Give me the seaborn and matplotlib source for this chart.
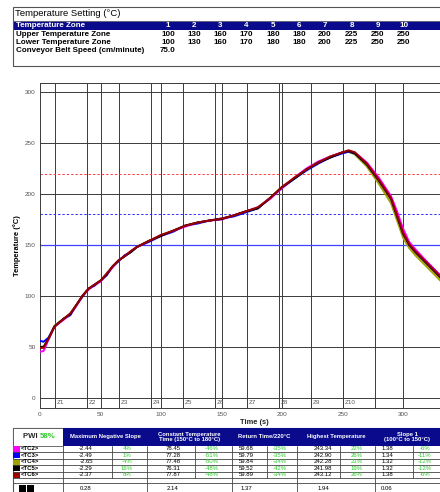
import pandas as pd
import matplotlib.pyplot as plt
import seaborn as sns
from matplotlib.patches import Rectangle
from matplotlib.lines import Line2D

# zone settings table
zones = ["1", "2", "3", "4", "5", "6", "7", "8", "9", "10"]
upper_zone = [100, 130, 160, 170, 180, 180, 200, 225, 250, 250]
lower_zone = [100, 130, 160, 170, 180, 180, 200, 225, 250, 250]
belt_speed = "75.0"

# zone boundaries on the time axis (s)
zone_start = [12.4, 38.8, 65.3, 91.7, 118.1, 144.6, 171.0, 197.4, 223.8, 250.2, 276.6]

# thermocouple readings
times = [0, 3, 7, 12, 20, 25, 30, 35, 40, 45, 50, 55, 60, 65, 70, 75, 80, 90, 100, 110,
         120, 130, 140, 150, 160, 170, 180, 190, 200, 210, 220, 230, 240, 250, 255, 260,
         270, 280, 290, 295, 300, 305, 310, 320, 330, 340]
tc2 = [45, 46, 57, 70, 77, 82, 90, 100, 106, 111, 114, 121, 128, 135, 139, 144, 148, 154, 159, 164,
       168, 172, 174, 175, 179, 183, 187, 195, 206, 216, 225, 232, 237, 241, 242, 241,
       231, 216, 198, 183, 166, 153, 146, 133, 121, 108]
tc3 = [56, 55, 59, 70, 78, 81, 91, 99, 107, 110, 115, 120, 129, 134, 140, 143, 148, 153, 159, 163,
       169, 171, 174, 176, 178, 182, 186, 196, 206, 215, 223, 230, 236, 240, 241.5, 240,
       230, 215, 197, 181, 164, 152, 145, 133, 121, 108]
tc4 = [50, 50, 58, 71, 78, 82, 91, 100, 107, 111, 115, 121, 129, 135, 139, 143, 148, 154, 159, 164,
       169, 172, 174, 175.5, 179, 183, 186, 196, 207, 215, 224, 231, 236, 241, 241.5, 239,
       227, 210, 191, 174, 157, 147, 140, 128, 116, 103]
tc5 = [50, 50, 58, 70, 78, 82, 91, 100, 107, 111, 115, 121, 129, 135, 139, 143, 148, 154, 159, 164,
       169, 172, 174, 175.5, 179, 183, 186, 196, 207, 215, 224, 231, 236, 241, 242, 240,
       229, 213, 195, 178, 161, 150, 143, 131, 119, 106]
tc6 = [49, 49, 58, 70, 78, 83, 91, 100, 107, 111, 115, 122, 129, 135, 139, 144, 148, 154, 160, 164,
       169, 172, 174, 176, 179, 183, 187, 196, 207, 216, 224, 231, 237, 241, 243, 241,
       230, 214, 196, 179, 162, 151, 144, 132, 120, 107]

# results table
tc_names = ["<TC2>", "<TC3>", "<TC4>", "<TC5>", "<TC6>"]
max_neg_slope = ["-2.44", "-2.49", "-2.65", "-2.29", "-2.37"]
max_neg_pct = ["4%", "1%", "-4%", "16%", "8%"]
const_time = ["78.45", "77.28", "77.48", "76.31", "77.87"]
const_pct = ["-46%", "-51%", "-50%", "-48%", "-48%"]
return_time = ["59.68", "59.79", "59.84", "59.52", "59.89"]
return_pct = ["-35%", "-35%", "-34%", "-42%", "-34%"]
highest = ["243.34", "242.90", "242.28", "241.98", "243.12"]
highest_pct = ["22%", "26%", "21%", "19%", "26%"]
slope1 = ["1.38", "1.34", "1.32", "1.32", "1.38"]
slope1_pct = ["-6%", "-11%", "-12%", "-12%", "-6%"]
range_row = ["0.28", "2.14", "1.37", "1.94", "0.06"]
pwi = "58%"

colors = {"<TC2>": "#ff00ff", "<TC3>": "#0000ff", "<TC4>": "#a3a300",
          "<TC5>": "#000000", "<TC6>": "#990000"}

sns.set_style("white")
plt.rcParams['font.family'] = ['Liberation Sans', 'DejaVu Sans']

W, H = 440, 492
fig = plt.figure(figsize=(W / 100, H / 100), dpi=100)


def fx(x):
    return x / W


def fy(y):
    return 1 - y / H


def box(x0, y0, x1, y1, fc="none", ec="#333333", lw=0.7):
    fig.add_artist(Rectangle((fx(x0), fy(y1)), fx(x1) - fx(x0), fy(y0) - fy(y1),
                             facecolor=fc, edgecolor=ec, linewidth=lw,
                             transform=fig.transFigure))


def hline(x0, x1, y, c="#555555", lw=0.6):
    fig.add_artist(Line2D([fx(x0), fx(x1)], [fy(y), fy(y)], color=c, lw=lw,
                          transform=fig.transFigure))


def vline(x, y0, y1, c="#555555", lw=0.6):
    fig.add_artist(Line2D([fx(x), fx(x)], [fy(y0), fy(y1)], color=c, lw=lw,
                          transform=fig.transFigure))


def txt(x, y, s, size=5.5, color="black", ha="left", weight="bold", **kw):
    fig.text(fx(x), fy(y), s, fontsize=size, color=color, ha=ha, va="center",
             fontweight=weight, **kw)


NAVY = "#0a0a8c"
GREEN = "#2ec82e"

# ---- top table: temperature settings
box(13, 7, 446, 66, ec="#555555", lw=0.8)
txt(15, 14, "Temperature Setting (°C)", size=6.8, weight="normal")
hline(13, 446, 20.5, c="#777777")
box(14, 21, 446, 29.5, fc=NAVY, ec=NAVY, lw=0)
txt(16, 25.3, "Temperature Zone", size=5.8, color="white")
col_x = [168, 194, 220, 246.5, 273, 299, 325, 351.5, 377.5, 404]
for i, z in enumerate(zones):
    txt(col_x[i], 25.3, z, size=5.8, color="white", ha="center")
    txt(col_x[i], 34, str(upper_zone[i]), size=5.8, ha="center")
    txt(col_x[i], 42, str(lower_zone[i]), size=5.8, ha="center")
txt(16, 34, "Upper Temperature Zone", size=5.8)
txt(16, 42, "Lower Temperature Zone", size=5.8)
txt(16, 50, "Conveyor Belt Speed (cm/minute)", size=5.8)
txt(col_x[0], 50, belt_speed, size=5.8, ha="center")

# ---- main chart
ax = fig.add_axes([fx(40), fy(408), fx(460) - fx(40), fy(83) - fy(408)])
rows = []
for name, vals in zip(tc_names, [tc2, tc3, tc4, tc5, tc6]):
    for t, v in zip(times, vals):
        rows.append({"Time": t, "Temp": v, "TC": name})
df = pd.DataFrame(rows)

for g in range(0, 301, 50):
    ax.axhline(g, color="#3a3a3a", lw=0.7, zorder=1)
    if g > 0:
        ax.axvline(g, color="#3a3a3a", lw=0.7, zorder=1)
for zs in zone_start:
    ax.axvline(zs, color="#3a3a3a", lw=0.7, zorder=1)
for i, zs in enumerate(zone_start[:-1]):
    ax.text(zs + 1.5, -5, f"Z{i + 1}", fontsize=4.5, color="#555555", va="center")

ax.axhline(220, color="#ff4040", lw=0.7, ls=(0, (2.5, 2)), zorder=1)
ax.axhline(180, color="#3030ff", lw=0.7, ls=(0, (2.5, 2)), zorder=1)
ax.axhline(150, color="#4040ff", lw=0.9, zorder=1)

sns.lineplot(data=df, x="Time", y="Temp", hue="TC",
             hue_order=["<TC4>", "<TC3>", "<TC2>", "<TC5>", "<TC6>"],
             palette=colors, estimator=None, sort=False, lw=1.4,
             legend=False, ax=ax, zorder=3)

ax.set_xlim(0, 347)
ax.set_ylim(-10, 309)
ax.set_xticks(range(0, 301, 50))
ax.set_yticks(range(0, 301, 50))
ax.tick_params(labelsize=4.6, labelcolor="#555555", length=2, width=0.6, pad=1,
               color="#555555")
ax.set_xlabel("")
ax.set_ylabel("")
for side in ["left", "bottom", "top"]:
    ax.spines[side].set_color("#3a3a3a")
    ax.spines[side].set_linewidth(0.7)
ax.spines["right"].set_visible(False)

txt(17, 246, "Temperature (°C)", size=5.4, rotation=90, ha="center")
fig.text(fx(254), fy(423), "Time (s)", fontsize=5.4, fontweight="bold",
         ha="center", va="center")

# ---- bottom table: results
top, hdr_bot = 428, 445.5
row_y = [445.5, 452, 458.5, 465, 471.5, 478]
box(13, top, 446, 495, ec="#555555", lw=0.8)
box(13, top, 63, hdr_bot, fc="white", ec="#555555", lw=0.6)
fig.text(fx(23), fy(436.7), "PWI ", fontsize=5.6, fontweight="bold", va="center")
fig.text(fx(40), fy(436.7), pwi, fontsize=5.6, fontweight="bold", va="center", color=GREEN)
box(63, top, 446, hdr_bot, fc=NAVY, ec=NAVY, lw=0)

groups = [(63, 147, "Maximum Negative Slope"),
          (147, 232, "Constant Temperature\nTime (150°C to 180°C)"),
          (232, 297, "Return Time/220°C"),
          (297, 375, "Highest Temperature"),
          (375, 446, "Slope 1\n(100°C to 150°C)")]
for x0, x1, label in groups:
    fig.text(fx((x0 + x1) / 2 if x1 < 440 else 407), fy(436.7), label, fontsize=4.2,
             fontweight="bold", color="white", ha="center", va="center", linespacing=0.95)
    vline(x0, hdr_bot, 495, c="#444444")

splits = [112, 195, 267, 340, 413]
for s in splits:
    vline(s, hdr_bot, 478, c="#444444")
for y in row_y[1:]:
    hline(13, 446, y, c="#444444")
hline(13, 446, 483, c="#444444")

val_x = [86, 127, 173, 212, 246, 280, 323, 357, 387, 425]
cols = [max_neg_slope, max_neg_pct, const_time, const_pct, return_time, return_pct,
        highest, highest_pct, slope1, slope1_pct]
for r, name in enumerate(tc_names):
    yc = (row_y[r] + row_y[r + 1]) / 2
    box(13, row_y[r] + 0.3, 20, row_y[r + 1] - 0.3, fc=colors[name], ec="none", lw=0)
    txt(20.5, yc, name, size=4.3)
    for c, (xc, col) in enumerate(zip(val_x, cols)):
        txt(xc, yc, col[r], size=4.3, ha="center", weight="normal",
            color=GREEN if c % 2 else "black")

box(19, 484.5, 25.5, 492, fc="black", ec="none", lw=0)
box(27, 484.5, 33.5, 492, fc="black", ec="none", lw=0)
for xc, v in zip([86, 173, 246, 323, 387], range_row):
    txt(xc, 488, v, size=4.3, ha="center", weight="normal")

fig.savefig("out.png", dpi=100)
